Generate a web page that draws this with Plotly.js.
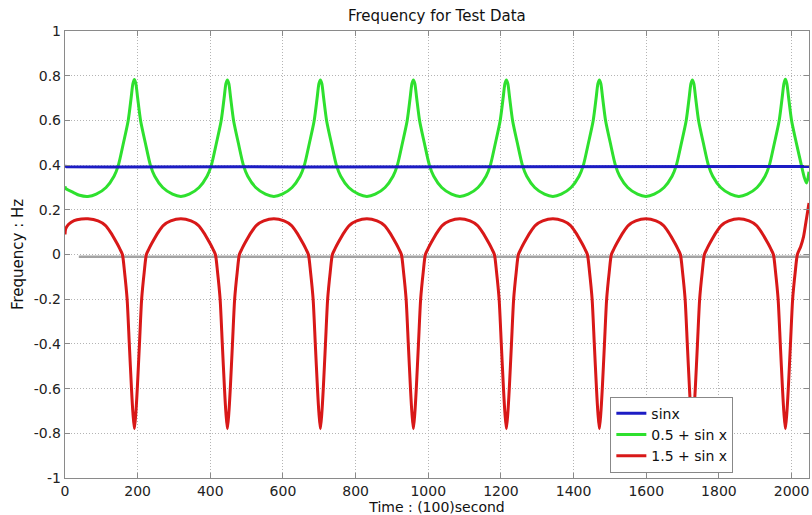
<!DOCTYPE html>
<html>
<head>
<meta charset="utf-8">
<script src="https://cdn.plot.ly/plotly-3.0.1.min.js"></script>
<style>html,body{margin:0;padding:0;background:#fff;}#chart{width:812px;height:515px;}</style>
</head>
<body>
<div id="chart"></div>
<script>
// ---- data ----
var seriesNames = ['sinx', '0.5 + sin x', '1.5 + sin x'];

var blueX = [0, 4, 128, 256, 384, 512, 640, 768, 896, 1024, 1152, 1280, 1408, 1536, 1664, 1792, 1920, 2048];
var blueY = [0.397, 0.393, 0.392, 0.393, 0.392, 0.393, 0.392, 0.392, 0.393, 0.392, 0.392, 0.393, 0.392, 0.392, 0.393, 0.392, 0.392, 0.394];

var greenX = [0, 2, 20, 40, 63,
  86, 113, 135, 147, 161, 174, 182, 187, 191, 195, 200, 208, 221, 235, 247, 269, 296, 319,
  342, 369, 391, 403, 417, 430, 438, 443, 447, 451, 456, 464, 477, 491, 503, 525, 552, 575,
  598, 625, 647, 659, 673, 686, 694, 699, 703, 707, 712, 720, 733, 747, 759, 781, 808, 831,
  854, 881, 903, 915, 929, 942, 950, 955, 959, 963, 968, 976, 989, 1003, 1015, 1037, 1064, 1087,
  1110, 1137, 1159, 1171, 1185, 1198, 1206, 1211, 1215, 1219, 1224, 1232, 1245, 1259, 1271, 1293, 1320, 1343,
  1366, 1393, 1415, 1427, 1441, 1454, 1462, 1467, 1471, 1475, 1480, 1488, 1501, 1515, 1527, 1549, 1576, 1599,
  1622, 1649, 1671, 1683, 1697, 1710, 1718, 1723, 1727, 1731, 1736, 1744, 1757, 1771, 1783, 1805, 1832, 1855,
  1878, 1905, 1927, 1939, 1953, 1966, 1974, 1979, 1983, 1987, 1992, 2000, 2013, 2027, 2035, 2041, 2045, 2048];
var greenY = [0.305, 0.295, 0.28, 0.265, 0.26,
  0.27, 0.30, 0.35, 0.40, 0.50, 0.60, 0.70, 0.765, 0.783, 0.765, 0.70, 0.60, 0.50, 0.40, 0.35, 0.30, 0.27, 0.26,
  0.27, 0.30, 0.35, 0.40, 0.50, 0.60, 0.70, 0.765, 0.781, 0.765, 0.70, 0.60, 0.50, 0.40, 0.35, 0.30, 0.27, 0.26,
  0.27, 0.30, 0.35, 0.40, 0.50, 0.60, 0.70, 0.765, 0.781, 0.765, 0.70, 0.60, 0.50, 0.40, 0.35, 0.30, 0.27, 0.26,
  0.27, 0.30, 0.35, 0.40, 0.50, 0.60, 0.70, 0.765, 0.781, 0.765, 0.70, 0.60, 0.50, 0.40, 0.35, 0.30, 0.27, 0.26,
  0.27, 0.30, 0.35, 0.40, 0.50, 0.60, 0.70, 0.765, 0.781, 0.765, 0.70, 0.60, 0.50, 0.40, 0.35, 0.30, 0.27, 0.26,
  0.27, 0.30, 0.35, 0.40, 0.50, 0.60, 0.70, 0.765, 0.781, 0.765, 0.70, 0.60, 0.50, 0.40, 0.35, 0.30, 0.27, 0.26,
  0.27, 0.30, 0.35, 0.40, 0.50, 0.60, 0.70, 0.765, 0.781, 0.765, 0.70, 0.60, 0.50, 0.40, 0.35, 0.30, 0.27, 0.26,
  0.27, 0.30, 0.35, 0.40, 0.50, 0.60, 0.70, 0.765, 0.784, 0.765, 0.70, 0.60, 0.50, 0.40, 0.345, 0.32, 0.34, 0.37];

var redX = [0, 2, 10, 25, 45, 63,
  91, 111, 125, 143, 151, 158, 164, 171, 177, 183, 187, 191, 195, 199, 205, 211, 218, 224, 231, 239, 257, 271, 291, 319,
  347, 367, 381, 399, 407, 414, 420, 427, 433, 439, 443, 447, 451, 455, 461, 467, 474, 480, 487, 495, 513, 527, 547, 575,
  603, 623, 637, 655, 663, 670, 676, 683, 689, 695, 699, 703, 707, 711, 717, 723, 730, 736, 743, 751, 769, 783, 803, 831,
  859, 879, 893, 911, 919, 926, 932, 939, 945, 951, 955, 959, 963, 967, 973, 979, 986, 992, 999, 1007, 1025, 1039, 1059, 1087,
  1115, 1135, 1149, 1167, 1175, 1182, 1188, 1195, 1201, 1207, 1211, 1215, 1219, 1223, 1229, 1235, 1242, 1248, 1255, 1263, 1281, 1295, 1315, 1343,
  1371, 1391, 1405, 1423, 1431, 1438, 1444, 1451, 1457, 1463, 1467, 1471, 1475, 1479, 1485, 1491, 1498, 1504, 1511, 1519, 1537, 1551, 1571, 1599,
  1627, 1647, 1661, 1679, 1687, 1694, 1700, 1707, 1713, 1719, 1723, 1727, 1731, 1735, 1741, 1747, 1754, 1760, 1767, 1775, 1793, 1807, 1827, 1855,
  1883, 1903, 1917, 1935, 1943, 1950, 1956, 1963, 1969, 1975, 1979, 1983, 1987, 1991, 1997, 2003, 2010, 2016, 2025, 2033, 2040, 2044, 2048];
var redY = [0.09, 0.115, 0.135, 0.152, 0.159, 0.16,
  0.15, 0.13, 0.10, 0.05, 0.025, 0, -0.08, -0.2, -0.4, -0.6, -0.71, -0.78, -0.71, -0.6, -0.4, -0.2, -0.08, 0, 0.025, 0.05, 0.10, 0.13, 0.15, 0.16,
  0.15, 0.13, 0.10, 0.05, 0.025, 0, -0.08, -0.2, -0.4, -0.6, -0.71, -0.78, -0.71, -0.6, -0.4, -0.2, -0.08, 0, 0.025, 0.05, 0.10, 0.13, 0.15, 0.16,
  0.15, 0.13, 0.10, 0.05, 0.025, 0, -0.08, -0.2, -0.4, -0.6, -0.71, -0.78, -0.71, -0.6, -0.4, -0.2, -0.08, 0, 0.025, 0.05, 0.10, 0.13, 0.15, 0.16,
  0.15, 0.13, 0.10, 0.05, 0.025, 0, -0.08, -0.2, -0.4, -0.6, -0.71, -0.78, -0.71, -0.6, -0.4, -0.2, -0.08, 0, 0.025, 0.05, 0.10, 0.13, 0.15, 0.16,
  0.15, 0.13, 0.10, 0.05, 0.025, 0, -0.08, -0.2, -0.4, -0.6, -0.71, -0.78, -0.71, -0.6, -0.4, -0.2, -0.08, 0, 0.025, 0.05, 0.10, 0.13, 0.15, 0.16,
  0.15, 0.13, 0.10, 0.05, 0.025, 0, -0.08, -0.2, -0.4, -0.6, -0.71, -0.78, -0.71, -0.6, -0.4, -0.2, -0.08, 0, 0.025, 0.05, 0.10, 0.13, 0.15, 0.16,
  0.15, 0.13, 0.10, 0.05, 0.025, 0, -0.08, -0.2, -0.4, -0.6, -0.71, -0.78, -0.71, -0.6, -0.4, -0.2, -0.08, 0, 0.025, 0.05, 0.10, 0.13, 0.15, 0.16,
  0.15, 0.13, 0.10, 0.05, 0.025, 0, -0.08, -0.2, -0.4, -0.6, -0.71, -0.78, -0.71, -0.6, -0.4, -0.2, -0.08, 0, 0.035, 0.08, 0.15, 0.19, 0.23];

var grayX = [38, 2048];
var grayY = [-0.01, -0.01];

var xTickVals = [0, 200, 400, 600, 800, 1000, 1200, 1400, 1600, 1800, 2000];
var yTickVals = [-1, -0.8, -0.6, -0.4, -0.2, 0, 0.2, 0.4, 0.6, 0.8, 1];
var yTickText = ['-1', '-0.8', '-0.6', '-0.4', '-0.2', '0', '0.2', '0.4', '0.6', '0.8', '1'];

// ---- chart ----
var FONT = 'DejaVu Sans, Liberation Sans, sans-serif';
var traces = [
  {x: grayX, y: grayY, mode: 'lines', showlegend: false, hoverinfo: 'skip',
   line: {color: '#a3a3a3', width: 2.5}},
  {x: greenX, y: greenY, mode: 'lines', name: seriesNames[1], legendrank: 2,
   line: {color: '#2ee02e', width: 3, shape: 'spline', smoothing: 0.7}},
  {x: redX, y: redY, mode: 'lines', name: seriesNames[2], legendrank: 3,
   line: {color: '#d81818', width: 3, shape: 'spline', smoothing: 0.7}},
  {x: blueX, y: blueY, mode: 'lines', name: seriesNames[0], legendrank: 1,
   line: {color: '#1c1cc4', width: 3}}
];

var axisCommon = {
  showline: true, linecolor: '#8a8a8a', linewidth: 1.2, mirror: 'ticks',
  ticks: 'inside', ticklen: 5, tickcolor: '#8a8a8a',
  showgrid: true, gridcolor: '#b4b4b4', griddash: '1px,2px', gridwidth: 1,
  zeroline: false,
  tickfont: {family: FONT, size: 14, color: '#222'}
};

var layout = {
  width: 812, height: 515,
  margin: {l: 65, r: 3, t: 31, b: 37, pad: 0},
  paper_bgcolor: '#fff', plot_bgcolor: '#fff',
  title: {text: 'Frequency for Test Data', font: {family: FONT, size: 15, color: '#111'},
          x: 0.538, xanchor: 'center', y: 0.969, yanchor: 'middle'},
  xaxis: Object.assign({}, axisCommon, {
    range: [0, 2048], tickvals: xTickVals,
    title: {text: 'Time : (100)second', font: {family: FONT, size: 14, color: '#111'}, standoff: 1}
  }),
  yaxis: Object.assign({}, axisCommon, {
    range: [-1, 1], tickvals: yTickVals, ticktext: yTickText,
    title: {text: 'Frequency : Hz', font: {family: FONT, size: 15, color: '#111'}, standoff: 6}
  }),
  legend: {
    x: 0.733, xanchor: 'left', y: 0.182, yanchor: 'top',
    bgcolor: '#fff', bordercolor: '#888', borderwidth: 1,
    font: {family: FONT, size: 14, color: '#111'},
    tracegroupgap: 0
  },
  showlegend: true
};

Plotly.newPlot('chart', traces, layout, {displayModeBar: false, staticPlot: true});
</script>
</body>
</html>
